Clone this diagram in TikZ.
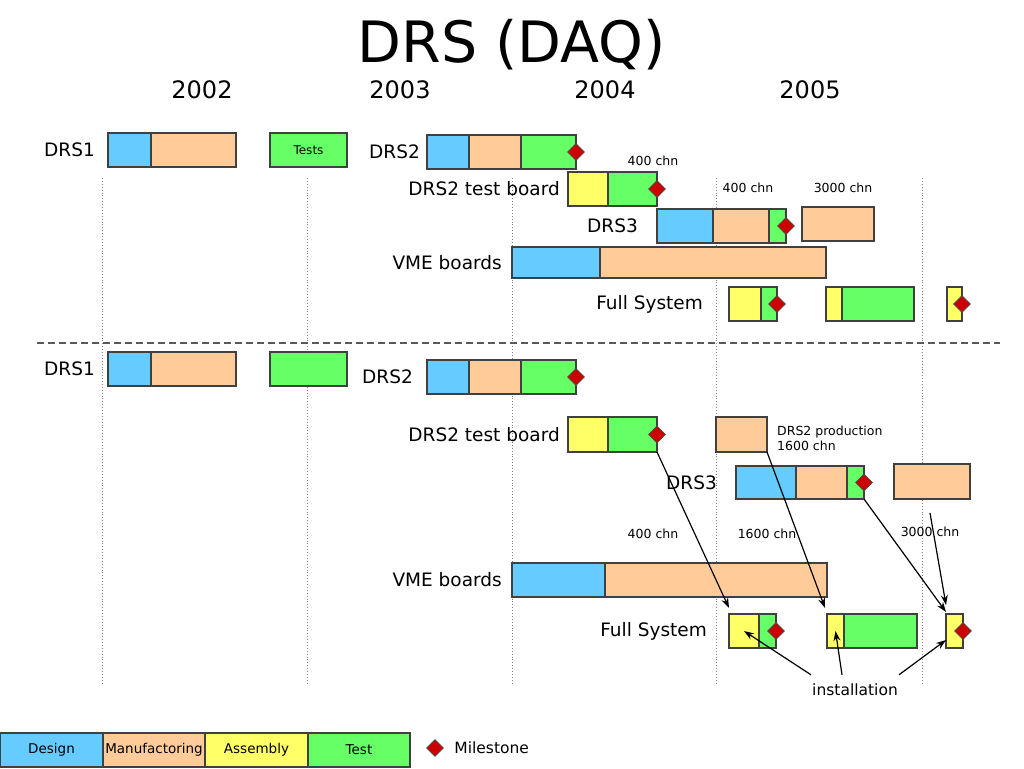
\documentclass[tikz,border=0pt]{standalone}
\usepackage{fontspec}
\setmainfont{DejaVu Sans}
\usetikzlibrary{positioning}
\usetikzlibrary{shapes.geometric}
\usetikzlibrary{arrows.meta}

\definecolor{dsgn}{HTML}{66CCFF}
\definecolor{manf}{HTML}{FFCC99}
\definecolor{asmb}{HTML}{FFFF66}
\definecolor{tst}{HTML}{66FF66}
\definecolor{mstone}{HTML}{CC0000}

\begin{document}
\begin{tikzpicture}[x=1pt,y=-1pt,
    seg/.style={draw=black!75, line width=1.2pt, anchor=north west,
      minimum height=34pt, inner sep=0pt, outer sep=0pt},
    design/.style={seg, fill=dsgn},
    manuf/.style={seg, fill=manf},
    assembly/.style={seg, fill=asmb},
    testing/.style={seg, fill=tst},
    milestone/.style={diamond, draw=black!70, fill=mstone, line width=0.8pt,
      minimum size=17pt, inner sep=0pt},
    lab/.style={font=\fontsize{18.5}{21}\selectfont, inner sep=1pt},
    small/.style={font=\fontsize{12.5}{15}\selectfont, inner sep=1pt},
    legend/.style={font=\fontsize{13.5}{15}\selectfont},
    link/.style={-{Stealth[length=10pt,width=7pt]}, line width=1.2pt},
    grid/.style={gray, dotted, line width=0.9pt}]
  \useasboundingbox (0,0) rectangle (1024,768);

  % title and years
  \node[font=\fontsize{57}{60}\selectfont] (title) at (512,45) {DRS (DAQ)};
  \node[font=\fontsize{24}{26}\selectfont] (y2002) at (202,90) {2002};
  \node[font=\fontsize{24}{26}\selectfont] (y2003) at (400,90) {2003};
  \node[font=\fontsize{24}{26}\selectfont] (y2004) at (605,90) {2004};
  \node[font=\fontsize{24}{26}\selectfont] (y2005) at (810,90) {2005};

  \foreach \x in {102,307,512,716,922}
    \draw[grid] (\x,178) -- (\x,683);
  \draw[gray!70!black, dash pattern=on 7pt off 4pt, line width=1.2pt] (37,343) -- (1000,343);

  % upper plan
  \node[design, minimum width=43] (u-drs1-d) at (108,133) {};
  \node[manuf, minimum width=85] (u-drs1-m) at (u-drs1-d.north east) {};
  \node[lab, left=12pt of u-drs1-d] (u-drs1) {DRS1};
  \node[testing, minimum width=77, font=\fontsize{12}{14}\selectfont] (u-tests) at (270,133) {Tests};

  \node[design, minimum width=42] (u-drs2-d) at (427,135) {};
  \node[manuf, minimum width=52] (u-drs2-m) at (u-drs2-d.north east) {};
  \node[testing, minimum width=55] (u-drs2-t) at (u-drs2-m.north east) {};
  \node[milestone] (u-drs2-ms) at (u-drs2-t.east) {};
  \node[lab, left=6pt of u-drs2-d] (u-drs2) {DRS2};
  \node[small] (u-chn1) at (653,161) {400 chn};

  \node[assembly, minimum width=40] (u-tb-a) at (568,172) {};
  \node[testing, minimum width=49] (u-tb-t) at (u-tb-a.north east) {};
  \node[milestone] (u-tb-ms) at (u-tb-t.east) {};
  \node[lab, left=7pt of u-tb-a] (u-tb) {DRS2 test board};
  \node[small] (u-chn2) at (748,188) {400 chn};
  \node[small] (u-chn3) at (843,188) {3000 chn};

  \node[design, minimum width=56] (u-drs3-d) at (657,209) {};
  \node[manuf, minimum width=56] (u-drs3-m) at (u-drs3-d.north east) {};
  \node[testing, minimum width=17] (u-drs3-t) at (u-drs3-m.north east) {};
  \node[milestone] (u-drs3-ms) at (u-drs3-t.east) {};
  \node[manuf, minimum width=72] (u-late) at (802,207) {};
  \node[lab, left=18pt of u-drs3-d] (u-drs3) {DRS3};

  \node[design, minimum width=88, minimum height=31] (u-vme-d) at (512,247) {};
  \node[manuf, minimum width=226, minimum height=31] (u-vme-m) at (u-vme-d.north east) {};
  \node[lab, left=9pt of u-vme-d] (u-vme) {VME boards};

  \node[assembly, minimum width=32] (u-fs1-a) at (729,287) {};
  \node[testing, minimum width=16] (u-fs1-t) at (u-fs1-a.north east) {};
  \node[milestone] (u-fs1-ms) at (u-fs1-t.east) {};
  \node[assembly, minimum width=16] (u-fs2-a) at (826,287) {};
  \node[testing, minimum width=72] (u-fs2-t) at (u-fs2-a.north east) {};
  \node[assembly, minimum width=15] (u-fs3-a) at (947,287) {};
  \node[milestone] (u-fs3-ms) at (u-fs3-a.east) {};
  \node[lab, left=25pt of u-fs1-a] (u-fs) {Full System};

  % lower plan
  \node[design, minimum width=43] (l-drs1-d) at (108,352) {};
  \node[manuf, minimum width=85] (l-drs1-m) at (l-drs1-d.north east) {};
  \node[lab, left=12pt of l-drs1-d] (l-drs1) {DRS1};
  \node[testing, minimum width=77] (l-tests) at (270,352) {};

  \node[design, minimum width=42] (l-drs2-d) at (427,360) {};
  \node[manuf, minimum width=52] (l-drs2-m) at (l-drs2-d.north east) {};
  \node[testing, minimum width=55] (l-drs2-t) at (l-drs2-m.north east) {};
  \node[milestone] (l-drs2-ms) at (l-drs2-t.east) {};
  \node[lab, left=13pt of l-drs2-d] (l-drs2) {DRS2};

  \node[assembly, minimum width=40, minimum height=35] (l-tb-a) at (568,417) {};
  \node[testing, minimum width=49, minimum height=35] (l-tb-t) at (l-tb-a.north east) {};
  \node[milestone] (l-tb-ms) at (l-tb-t.east) {};
  \node[lab, left=7pt of l-tb-a] (l-tb) {DRS2 test board};
  \node[manuf, minimum width=51, minimum height=35] (l-prod) at (716,417) {};
  \node[small, align=left, anchor=west] (l-prod-txt)
    at ([xshift=9pt,yshift=-4pt]l-prod.east) {DRS2 production\\1600 chn};

  \node[design, minimum width=60, minimum height=33] (l-drs3-d) at (736,466) {};
  \node[manuf, minimum width=51, minimum height=33] (l-drs3-m) at (l-drs3-d.north east) {};
  \node[testing, minimum width=17, minimum height=33] (l-drs3-t) at (l-drs3-m.north east) {};
  \node[milestone] (l-drs3-ms) at (l-drs3-t.east) {};
  \node[manuf, minimum width=76, minimum height=35] (l-late) at (894,464) {};
  \node[lab, left=18pt of l-drs3-d] (l-drs3) {DRS3};

  \node[small] (l-chn1) at (653,534) {400 chn};
  \node[small] (l-chn2) at (767,534) {1600 chn};
  \node[small] (l-chn3) at (930,532) {3000 chn};

  \node[design, minimum width=93] (l-vme-d) at (512,563) {};
  \node[manuf, minimum width=222] (l-vme-m) at (l-vme-d.north east) {};
  \node[lab, left=9pt of l-vme-d] (l-vme) {VME boards};

  \node[assembly, minimum width=30] (l-fs1-a) at (729,614) {};
  \node[testing, minimum width=17] (l-fs1-t) at (l-fs1-a.north east) {};
  \node[milestone] (l-fs1-ms) at (l-fs1-t.east) {};
  \node[assembly, minimum width=17] (l-fs2-a) at (827,614) {};
  \node[testing, minimum width=73] (l-fs2-t) at (l-fs2-a.north east) {};
  \node[assembly, minimum width=17] (l-fs3-a) at (946,614) {};
  \node[milestone] (l-fs3-ms) at (l-fs3-a.east) {};
  \node[lab, left=21pt of l-fs1-a] (l-fs) {Full System};

  \node[font=\fontsize{15.5}{17}\selectfont, inner sep=1pt] (inst) at (855,690) {installation};

  % deliveries into the full system
  \draw[link] (l-tb-t.south east) -- ([yshift=6pt]l-fs1-a.north west);
  \draw[link] (l-prod.south east) -- ([xshift=-2pt,yshift=6pt]l-fs2-a.north west);
  \draw[link] (l-drs3-t.south east) -- ([yshift=2pt]l-fs3-a.north west);
  \coordinate (l-late-tail) at ([xshift=-2pt,yshift=-14pt]l-late.south);
  \draw[link] (l-late-tail) -- ([yshift=9pt]l-fs3-a.north west);
  \draw[link] ([yshift=8pt]inst.north west) -- (l-fs1-a.center);
  \draw[link] ([xshift=-13pt,yshift=8pt]inst.north) -- (l-fs2-a.center);
  \draw[link] ([yshift=8pt]inst.north east) -- ([yshift=-9pt]l-fs3-a.west);

  % legend
  \node[design, minimum width=103, legend] (key-d) at (0,733) {Design};
  \node[manuf, minimum width=102, legend] (key-m) at (key-d.north east) {Manufactoring};
  \node[assembly, minimum width=103, legend] (key-a) at (key-m.north east) {Assembly};
  \node[testing, minimum width=102, legend] (key-t) at (key-a.north east) {Test};
  \node[milestone] (key-ms) at (435,748) {};
  \node[font=\fontsize{15.5}{17}\selectfont, right=7pt of key-ms] (key-ms-txt) {Milestone};
\end{tikzpicture}
\end{document}
